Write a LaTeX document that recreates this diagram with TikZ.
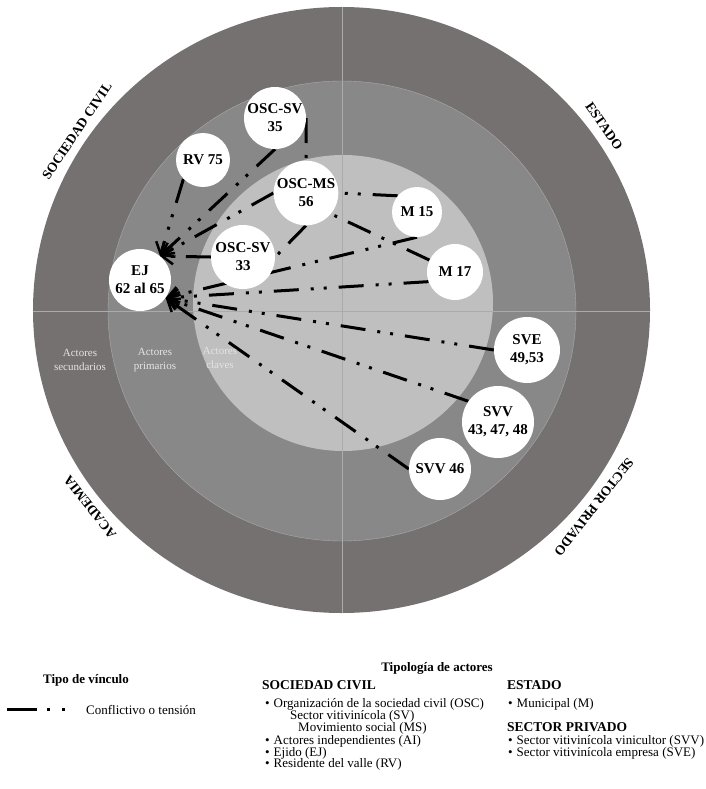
\documentclass[tikz,border=0pt]{standalone}
\usepackage{fontspec}
\setmainfont{Liberation Serif}
\usepackage{xcolor}
\usepackage{tikz}
\usetikzlibrary{arrows.meta}

\definecolor{anillo1}{HTML}{767171}
\definecolor{anillo2}{HTML}{888888}
\definecolor{anillo3}{HTML}{BFBFBF}
\definecolor{linea}{HTML}{ABABAB}
\definecolor{rotulo}{HTML}{E4E4E4}

\pgfdeclarelayer{fondo}
\pgfdeclarelayer{enlaces}
\pgfsetlayers{fondo,enlaces,main}

\tikzset{
  actor/.style={circle, fill=white, inner sep=0pt, align=center,
    font=\fontsize{15}{18}\selectfont\bfseries},
  conflicto/.style={line width=3pt,
    dash pattern=on 25pt off 12pt on 3pt off 10pt on 3pt off 12pt},
  flecha/.style={conflicto, -{Straight Barb[length=11pt,width=16pt,line width=2.5pt]}},
  sector/.style={font=\fontsize{13.5}{15}\selectfont\bfseries},
  nivel/.style={text=rotulo, align=center, font=\fontsize{11}{13.5}\selectfont},
  leyenda/.style={anchor=base west, inner sep=0pt, font=\fontsize{13}{14}\selectfont},
}

\begin{document}
\begin{tikzpicture}[x=1pt,y=-1pt]
  \useasboundingbox (0,0) rectangle (705,789);
  % Anillos
  \begin{pgfonlayer}{fondo}
    \fill[anillo1] (341.5,310) ellipse [x radius=308.5, y radius=303];
    \draw[linea, fill=anillo2] (342,311) ellipse [x radius=234, y radius=230];
    \fill[anillo3] (343,303) ellipse [x radius=150, y radius=148];
    \draw[linea, line width=0.8pt] (342,7) -- (342,613);
    \draw[linea, line width=0.8pt] (33,311) -- (650,311);
  \end{pgfonlayer}
  % Sectores
  \node[sector, rotate=56] (sc) at (77,131) {SOCIEDAD CIVIL};
  \node[sector, rotate=-55] (es) at (604,126) {ESTADO};
  \node[sector, rotate=128] (ac) at (90,507) {ACADEMIA};
  \node[sector, rotate=-128] (sp) at (594,507) {SECTOR PRIVADO};
  \node[nivel] (sec) at (80,360) {Actores\\secundarios};
  \node[nivel] (pri) at (155,360) {Actores\\primarios};
  \node[nivel] (cla) at (220,358) {Actores\\claves};
  % Actores
  \node[actor, minimum size=62pt] (osc35) at (275,118) {OSC-SV\\35};
  \node[actor, minimum size=54pt] (rv75) at (203,160) {RV 75};
  \node[actor, minimum size=62pt] (oscms) at (306,193) {OSC-MS\\56};
  \node[actor, minimum size=50pt] (m15) at (417,212) {M 15};
  \node[actor, minimum size=64pt] (osc33) at (243,257) {OSC-SV\\33};
  \node[actor, minimum size=56pt] (m17) at (455,272) {M 17};
  \node[actor, minimum size=62pt] (ej) at (140,280) {EJ\\62 al 65};
  \node[actor, minimum size=66pt] (sve) at (527,350) {SVE\\49,53};
  \node[actor, minimum size=72pt] (svv43) at (498,422) {SVV\\43, 47, 48};
  \node[actor, minimum size=62pt] (svv46) at (440,469) {SVV 46};
  % Vinculos
  \begin{pgfonlayer}{enlaces}
    \draw[flecha] (rv75.224) -- (ej.50);
    \draw[flecha] (osc35.south) -- (ej.50);
    \draw[flecha] (oscms.west) -- (ej.50);
    \draw[flecha] (osc33.west) -- (ej.50);
    \draw[flecha] (m15.south) -- (ej.-35);
    \draw[flecha] (m17.200) -- (ej.-35);
    \draw[flecha] (sve.west) -- (ej.-35);
    \draw[flecha] (svv43.145) -- (ej.-35);
    \draw[flecha] (svv46.west) -- (ej.-35);
    \draw[conflicto] (osc35.east) -- (oscms.north);
    \draw[conflicto] (m15.140) -- (oscms.east);
    \draw[conflicto] (m17.155) -- (oscms.-40);
    \draw[conflicto] (oscms.south) -- (osc33.east);
  \end{pgfonlayer}
  % Leyenda
  \node[font=\fontsize{13}{14}\selectfont\bfseries] (tipo) at (86,680) {Tipo de vínculo};
  \coordinate (muestraA) at (7,709);
  \coordinate (muestraB) at (66,709);
  \draw[line width=3pt, dash pattern=on 30pt off 10pt on 3pt off 12pt on 3pt off 60pt] (muestraA) -- (muestraB);
  \node[leyenda] (conf) at (86,714) {Conflictivo o tensión};
  \node[font=\fontsize{13}{14}\selectfont\bfseries] (tipol) at (437,668) {Tipología de actores};
  \node[leyenda, font=\fontsize{13.5}{14}\selectfont\bfseries] (lsc) at (262,689) {SOCIEDAD CIVIL};
  \node[leyenda] (l1) at (265,707) {•\hspace{4pt}Organización de la sociedad civil (OSC)};
  \node[leyenda] (l2) at (290,719) {Sector vitivinícola (SV)};
  \node[leyenda] (l3) at (298,731) {Movimiento social (MS)};
  \node[leyenda] (l4) at (265,744) {•\hspace{4pt}Actores independientes (AI)};
  \node[leyenda] (l5) at (265,756) {•\hspace{4pt}Ejido (EJ)};
  \node[leyenda] (l6) at (265,767) {•\hspace{4pt}Residente del valle (RV)};
  \node[leyenda, font=\fontsize{13.5}{14}\selectfont\bfseries] (les) at (507,689) {ESTADO};
  \node[leyenda] (l7) at (508,707) {•\hspace{4pt}Municipal (M)};
  \node[leyenda, font=\fontsize{13.5}{14}\selectfont\bfseries] (lsp) at (507,731) {SECTOR PRIVADO};
  \node[leyenda] (l8) at (508,744) {•\hspace{4pt}Sector vitivinícola vinicultor (SVV)};
  \node[leyenda] (l9) at (508,756) {•\hspace{4pt}Sector vitivinícola empresa (SVE)};
\end{tikzpicture}
\end{document}
